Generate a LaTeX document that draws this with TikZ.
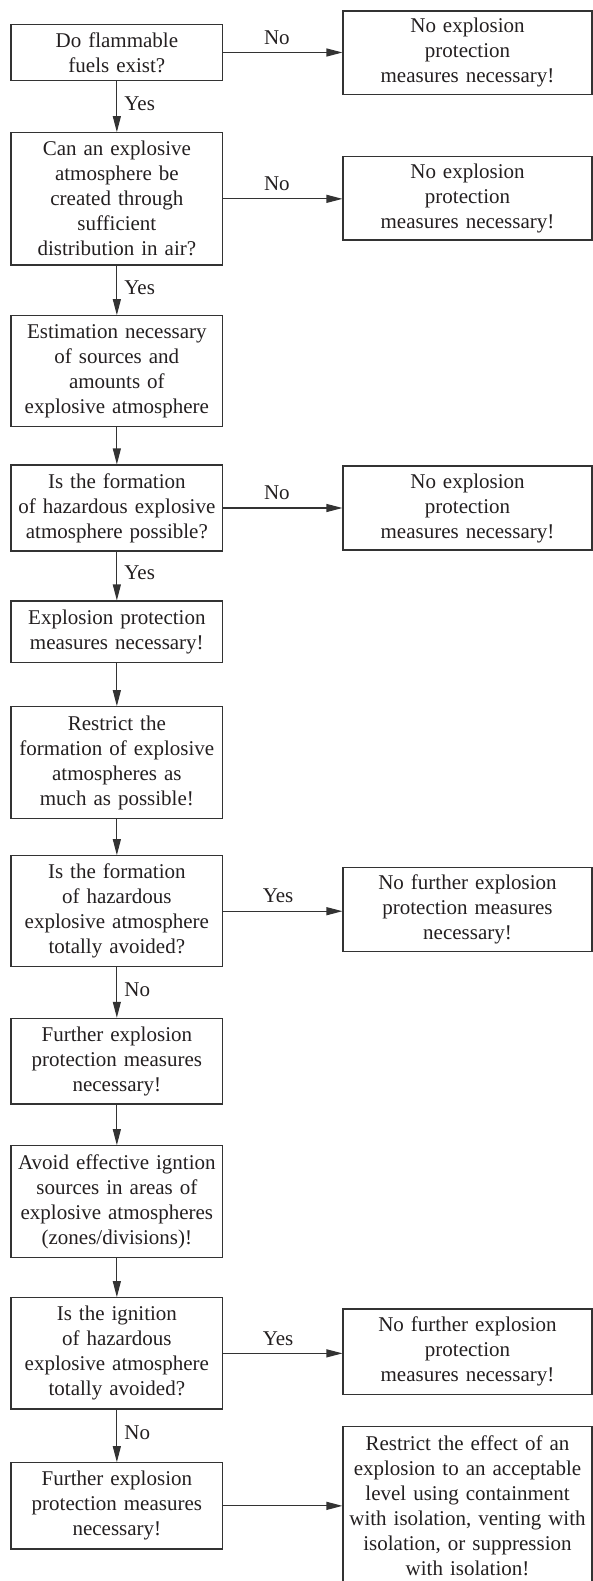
\documentclass[tikz,border=0pt]{standalone}
\usepackage{fontspec}
\setmainfont{Liberation Serif}
\usetikzlibrary{arrows.meta}
\definecolor{ink}{HTML}{231F20}
\definecolor{lineC}{HTML}{333333}
\begin{document}
\begin{tikzpicture}[x=1pt,y=-1pt,
  every node/.style={text=ink},
  lbox/.style={draw=lineC,line width=1.1pt,rectangle,inner sep=0pt,
    text width=207pt,minimum width=211.7pt,align=center,
    font=\fontsize{21}{25}\selectfont},
  rbox/.style={draw=lineC,line width=1.1pt,rectangle,inner sep=0pt,
    text width=245pt,minimum width=249pt,align=center,
    font=\fontsize{21}{25}\selectfont},
  conn/.style={draw=lineC,line width=1.1pt,-{Triangle[length=16pt,width=8pt]}},
  lab/.style={font=\fontsize{21}{25}\selectfont,inner sep=0pt}]
\useasboundingbox (0,0) rectangle (593,1581);
% left column
\node[lbox,minimum height=56.4pt] (b1) at (116.85,52.5) {Do flammable\\fuels exist?};
\node[lbox,minimum height=132.3pt] (b2) at (116.85,198.85) {Can an explosive\\atmosphere be\\created through\\sufficient\\distribution in air?};
\node[lbox,minimum height=111pt] (b3) at (116.85,371.2) {Estimation necessary\\of sources and\\amounts of\\explosive atmosphere};
\node[lbox,minimum height=86pt] (b4) at (116.85,508) {Is the formation\\of hazardous explosive\\atmosphere possible?};
\node[lbox,minimum height=61.3pt] (b5) at (116.85,631.65) {Explosion protection\\measures necessary!};
\node[lbox,minimum height=111.6pt] (b6) at (116.85,762.5) {Restrict the\\formation of explosive\\atmospheres as\\much as possible!};
\node[lbox,minimum height=111pt] (b7) at (116.85,911.2) {Is the formation\\of hazardous\\explosive atmosphere\\totally avoided?};
\node[lbox,minimum height=85.7pt] (b8) at (116.85,1061.15) {Further explosion\\protection measures\\necessary!};
\node[lbox,minimum height=111.6pt] (b9) at (116.85,1201.5) {Avoid effective igntion\\sources in areas of\\explosive atmospheres\\(zones/divisions)!};
\node[lbox,minimum height=111.3pt] (b10) at (116.85,1353.35) {Is the ignition\\of hazardous\\explosive atmosphere\\totally avoided?};
\node[lbox,minimum height=86.3pt] (b11) at (116.85,1505.85) {Further explosion\\protection measures\\necessary!};
% right column
\node[rbox,minimum height=83.3pt] (r1) at (467.5,52.65) {No explosion\\protection\\measures necessary!};
\node[rbox,minimum height=83.3pt] (r2) at (467.5,198.35) {No explosion\\protection\\measures necessary!};
\node[rbox,minimum height=84pt] (r4) at (467.5,508) {No explosion\\protection\\measures necessary!};
\node[rbox,minimum height=84pt] (r7) at (467.5,909.7) {No further explosion\\protection measures\\necessary!};
\node[rbox,minimum height=85.3pt] (r10) at (467.5,1351.65) {No further explosion\\protection\\measures necessary!};
\node[rbox,minimum height=158.3pt] (r11) at (467.5,1505.85) {Restrict the effect of an\\explosion to an acceptable\\level using containment\\with isolation, venting with\\isolation, or suppression\\with isolation!};
% vertical connectors
\draw[conn] (b1) -- node[lab,anchor=west,xshift=7pt,yshift=3pt]{Yes} (b2);
\draw[conn] (b2) -- node[lab,anchor=west,xshift=7pt,yshift=3pt]{Yes} (b3);
\draw[conn] (b3) -- (b4);
\draw[conn] (b4) -- node[lab,anchor=west,xshift=7pt,yshift=3pt]{Yes} (b5);
\draw[conn] (b5) -- (b6);
\draw[conn] (b6) -- (b7);
\draw[conn] (b7) -- node[lab,anchor=west,xshift=7pt,yshift=3pt]{No} (b8);
\draw[conn] (b8) -- (b9);
\draw[conn] (b9) -- (b10);
\draw[conn] (b10) -- node[lab,anchor=west,xshift=7pt,yshift=3pt]{No} (b11);
% horizontal connectors
\draw[conn] (b1.east) -- node[lab,pos=0.45,yshift=15pt]{No} (b1.east -| r1.west);
\draw[conn] (b2.east) -- node[lab,pos=0.45,yshift=15pt]{No} (b2.east -| r2.west);
\draw[conn] (b4.east) -- node[lab,pos=0.45,yshift=15pt]{No} (b4.east -| r4.west);
\draw[conn] (b7.east) -- node[lab,pos=0.46,yshift=15pt]{Yes} (b7.east -| r7.west);
\draw[conn] (b10.east) -- node[lab,pos=0.46,yshift=15pt]{Yes} (b10.east -| r10.west);
\draw[conn] (b11.east) -- (b11.east -| r11.west);
\end{tikzpicture}
\end{document}
